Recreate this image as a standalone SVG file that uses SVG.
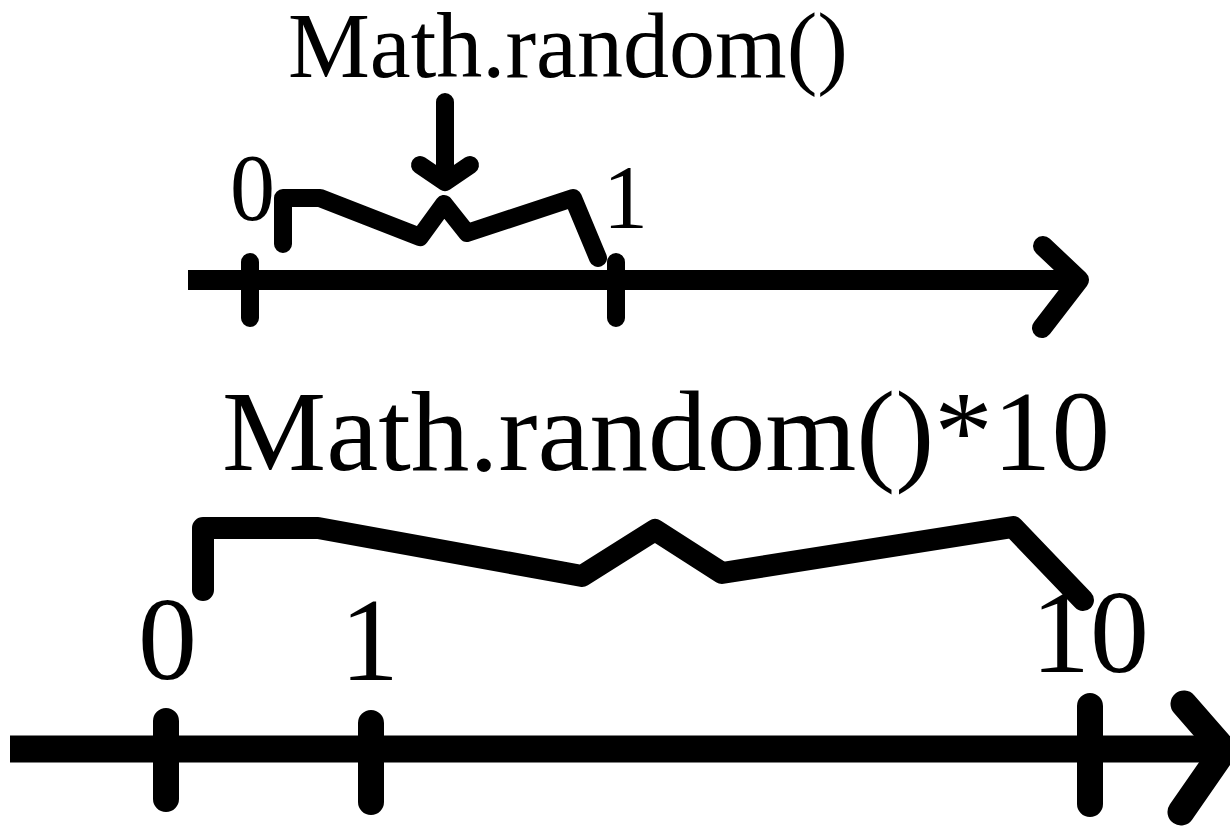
<svg xmlns="http://www.w3.org/2000/svg" width="1230" height="827" viewBox="0 0 1230 827">
<style>
.ln{fill:none;stroke:#000;stroke-linecap:round;stroke-linejoin:round}
.ax{fill:none;stroke:#000;stroke-linecap:butt}
.t{font-family:"Liberation Serif","Times New Roman",serif;fill:#000}
</style>
<rect width="1230" height="827" fill="#fff"/>
<g id="top">
<text class="t" x="288" y="77" font-size="94" textLength="560" lengthAdjust="spacingAndGlyphs">Math.random()</text>
<path class="ln" stroke-width="18" d="M445,102 V180 M420,165 L445,182 L470,165"/>
<path class="ln" stroke-width="18" d="M283,244 V198 H320 L420,237 L444,204 L467,233 L573,198 L598,258"/>
<path class="ax" stroke-width="20" d="M188,280 H1075"/>
<path class="ln" stroke-width="20" d="M1043,246 L1079,280 L1042,328"/>
<path class="ln" stroke-width="18" d="M250,262 V318 M616,262 V318"/>
<text class="t" x="230" y="220" font-size="95" textLength="45" lengthAdjust="spacingAndGlyphs">0</text>
<text class="t" x="603" y="228" font-size="90">1</text>
</g>
<g id="bottom">
<text class="t" x="222" y="470" font-size="114" textLength="888" lengthAdjust="spacingAndGlyphs">Math.random()*10</text>
<path class="ln" stroke-width="22" d="M203,590 V528 H318 L582,576 L655,530 L722,573 L1013,527 L1083,600"/>
<path class="ax" stroke-width="27" d="M10,749 H1220"/>
<path class="ln" stroke-width="27" d="M1184,704 L1224,750 L1181,812"/>
<path class="ln" stroke-width="26" d="M166,721 V799 M371,723 V802 M1090,706 V804"/>
<text class="t" x="138" y="679" font-size="118">0</text>
<text class="t" x="340" y="680" font-size="118">1</text>
<text class="t" x="1031" y="672" font-size="118">10</text>
</g>
</svg>
